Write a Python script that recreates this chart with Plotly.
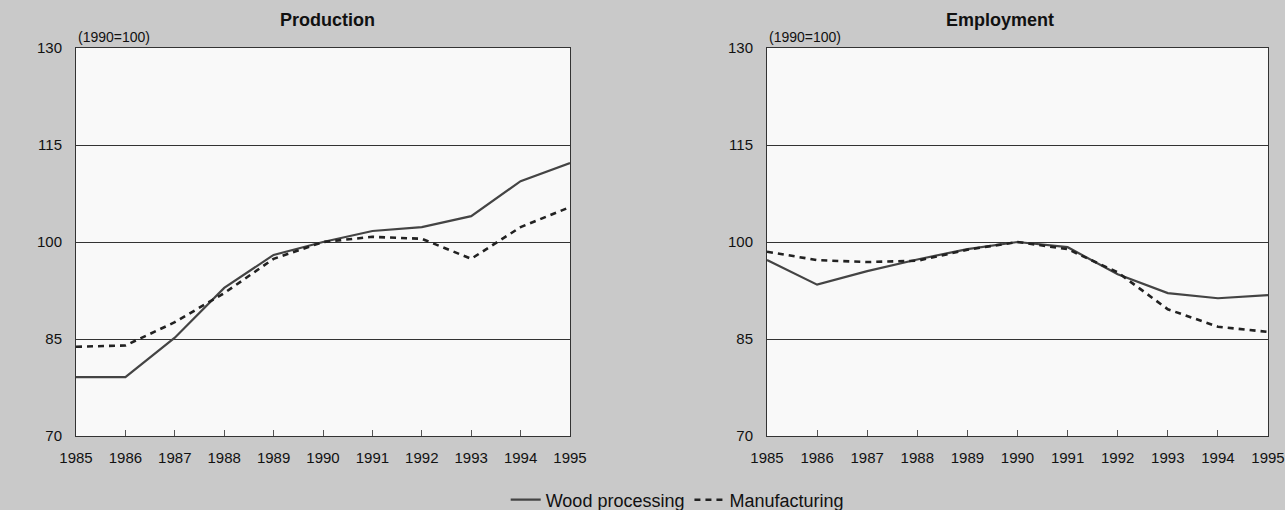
import plotly.graph_objects as go

years = [1985, 1986, 1987, 1988, 1989, 1990, 1991, 1992, 1993, 1994, 1995]
prod_wood = [79.1, 79.1, 85.2, 92.9, 98.0, 100.0, 101.7, 102.3, 104.0, 109.4, 112.2]
prod_manuf = [83.8, 84.0, 87.6, 92.1, 97.4, 100.0, 100.8, 100.5, 97.4, 102.3, 105.4]
emp_wood = [97.2, 93.4, 95.5, 97.3, 98.9, 100.0, 99.2, 95.0, 92.1, 91.3, 91.8]
emp_manuf = [98.5, 97.2, 96.9, 97.1, 98.8, 100.0, 98.9, 95.3, 89.6, 86.9, 86.1]
y_ticks = [70, 85, 100, 115, 130]
titles = ["Production", "Employment"]
series_names = ["Wood processing", "Manufacturing"]

FONT = "Liberation Sans, Arial, sans-serif"
LINE = "#444444"
W, H = 1285, 510

fig = go.Figure()
for i, (w, m) in enumerate([(prod_wood, prod_manuf), (emp_wood, emp_manuf)]):
    xa = "x" if i == 0 else "x2"
    ya = "y" if i == 0 else "y2"
    fig.add_trace(go.Scatter(x=years, y=w, mode="lines", name=series_names[0],
                             line=dict(color=LINE, width=2.2, dash="solid"),
                             xaxis=xa, yaxis=ya, showlegend=(i == 0)))
    fig.add_trace(go.Scatter(x=years, y=m, mode="lines", name=series_names[1],
                             line=dict(color="#222222", width=2.6, dash="6px,5px"),
                             xaxis=xa, yaxis=ya, showlegend=(i == 0)))

xd = [[76 / W, 570 / W], [767 / W, 1268 / W]]
yd = [1 - 436 / H, 1 - 48 / H]

axis_common = dict(showline=True, linecolor="#333333", linewidth=1, mirror=True,
                   automargin=False,
                   tickfont=dict(family=FONT, size=15, color="#111111"))
for i in range(2):
    sfx = "" if i == 0 else "2"
    fig.layout["xaxis" + sfx] = dict(
        domain=xd[i], range=[1985, 1995], tickmode="array", tickvals=years,
        ticktext=[str(y) for y in years], ticks="inside", ticklen=6, tickcolor="#555555",
        showgrid=False, zeroline=False, anchor="y" + sfx, ticklabelstandoff=8, **axis_common)
    fig.layout["yaxis" + sfx] = dict(
        domain=yd, range=[70, 130], tickmode="array", tickvals=y_ticks,
        ticks="", showgrid=True, gridcolor="#333333", gridwidth=1, zeroline=False,
        anchor="x" + sfx, ticklabelstandoff=10, **axis_common)

annotations = []
title_x = [327 / W, 1000 / W]
for i in range(2):
    annotations.append(dict(text="<b>" + titles[i] + "</b>", x=title_x[i], y=1 - 20 / H,
                            xref="paper", yref="paper", showarrow=False,
                            font=dict(family=FONT, size=18, color="#111111"),
                            xanchor="center", yanchor="middle"))
    annotations.append(dict(text="(1990=100)", x=xd[i][0], y=1 - 37 / H,
                            xref="paper", yref="paper", showarrow=False,
                            font=dict(family=FONT, size=14, color="#111111"),
                            xanchor="left", yanchor="middle"))

fig.update_layout(
    width=W, height=H,
    margin=dict(l=0, r=0, t=0, b=0, autoexpand=False),
    paper_bgcolor="#c9c9c9",
    plot_bgcolor="#f9f9f9",
    font=dict(family=FONT, size=13, color="#111111"),
    annotations=annotations,
    legend=dict(orientation="h", x=0.527, xanchor="center", y=1 - 500 / H, yanchor="middle",
                bgcolor="rgba(0,0,0,0)", font=dict(family=FONT, size=18, color="#111111"),
                itemwidth=30, tracegroupgap=0),
)

fig.write_html("out.html", config={"displayModeBar": False},
               post_script="document.body.style.margin='0';")
